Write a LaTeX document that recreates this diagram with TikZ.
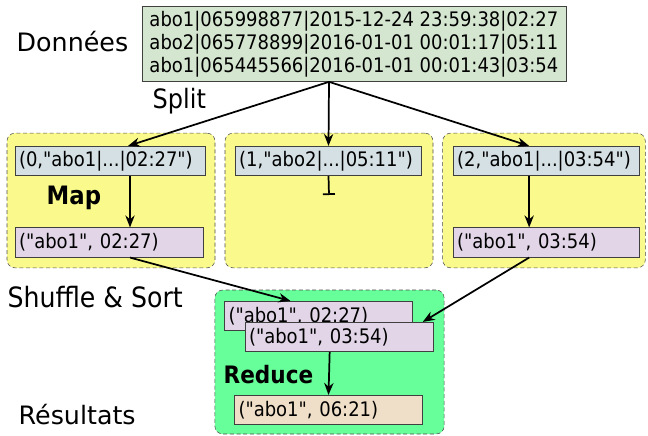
\documentclass[tikz,border=0pt]{standalone}
\usepackage{fontspec}
\setmainfont{DejaVu Sans Condensed}
\newfontfamily\labelfont{DejaVu Sans}
\newfontfamily\recordfont{DejaVu Sans Condensed}
\usetikzlibrary{arrows.meta,calc}

\definecolor{datagreen}{RGB}{213,230,208}
\definecolor{splitblue}{RGB}{212,224,228}
\definecolor{pairpurple}{RGB}{225,213,231}
\definecolor{mapyellow}{RGB}{250,250,140}
\definecolor{reducegreen}{RGB}{102,255,153}
\definecolor{resultwheat}{RGB}{240,223,200}

\begin{document}
\begin{tikzpicture}[x=0.75pt, y=-0.75pt]

        \def\bh{22pt}

        % Styles for the record boxes and the phase frames
        \tikzset{
            entry/.style={draw=black!75, line width=0.6pt, inner xsep=3pt,
                text width=#1, align=left, minimum height=\bh,
                font=\recordfont\fontsize{15}{17}\selectfont},
            frame/.style={draw=black!70, densely dashed, line width=0.4pt,
                rounded corners=6pt},
            phase/.style={font=\bfseries\fontsize{19}{22}\selectfont},
            step label/.style={font=\labelfont\fontsize{19}{22}\selectfont},
            link/.style={line width=1.3pt, -{Stealth[length=9pt,width=7pt]}}
        }

        \useasboundingbox (0,0) rectangle (648,435);

        % Frames of the map and reduce phases
        \node[frame, fill=mapyellow, minimum width=156pt, minimum height=101pt]
            (mapL) at (111,200.5) {};
        \node[frame, fill=mapyellow, minimum width=156pt, minimum height=101pt]
            (mapM) at (329,200.5) {};
        \node[frame, fill=mapyellow, minimum width=152pt, minimum height=101pt]
            (mapR) at (544,200.5) {};
        \node[frame, fill=reducegreen, minimum width=172pt, minimum height=108pt]
            (red) at (329.5,362) {};

        % Input records
        \node[draw=black!75, line width=0.6pt, fill=datagreen, align=left,
            minimum width=318pt, minimum height=54pt,
            font=\recordfont\fontsize{15}{17.25}\selectfont] (data) at (354,44)
            {abo1|065998877|2015-12-24 23:59:38|02:27\\
             abo2|065778899|2016-01-01 00:01:17|05:11\\
             abo1|065445566|2016-01-01 00:01:43|03:54};

        % Split output
        \node[entry=136.5pt, fill=splitblue] (inL) at (110,161)
            {(0,"abo1|...|02:27")};
        \node[entry=134pt, fill=splitblue] (inM) at (328.5,161)
            {(1,"abo2|...|05:11")};
        \node[entry=134pt, fill=splitblue] (inR) at (546.5,161)
            {(2,"abo1|...|03:54")};

        % Map output
        \node[entry=135pt, fill=pairpurple] (keyL) at (109,242.5)
            {("abo1", 02:27)};
        \node[entry=134pt, fill=pairpurple] (keyR) at (546.5,242.5)
            {("abo1", 03:54)};
        \coordinate (stop) at (329,195);

        % Shuffled pairs and the reduced result
        \node[entry=135pt, fill=pairpurple] (sortA) at (318.5,316)
            {("abo1", 02:27)};
        \node[entry=135pt, fill=pairpurple] (sortB) at (339,337)
            {("abo1", 03:54)};
        \node[entry=135pt, fill=resultwheat] (res) at (328.5,410)
            {("abo1", 06:21)};

        % Side labels
        \node[step label, anchor=west] (lblIn) at (12,42) {Données};
        \node[step label, anchor=west] (lblOut) at (14,415) {Résultats};
        \node[phase, font=\fontsize{20}{22}\selectfont, anchor=west] (lblSplit)
            at (148,101) {Split};
        \node[phase, anchor=west] (lblMap) at (42,198) {Map};
        \node[phase, font=\fontsize{21}{22}\selectfont, anchor=west] (lblShuffle)
            at (3,297) {Shuffle \& Sort};
        \node[phase, font=\bfseries\fontsize{18}{22}\selectfont, anchor=west]
            (lblReduce) at (219,375) {Reduce};

        \begin{scope}
            \draw[link] ([xshift=-18.75pt]data.south) -- ([xshift=13.5pt]inL.north);
            \draw[link] ([xshift=-18.75pt]data.south) -- (inM.north);
            \draw[link] ([xshift=-18.75pt]data.south) -- ([xshift=-13pt]inR.north);

            \draw[link] ([xshift=15pt]inL.south) -- ([xshift=15.75pt]keyL.north);
            \draw[link] ([xshift=-13pt]inR.south) -- ([xshift=-13pt]keyR.north);
            \draw[line width=1.3pt, -{Bar[width=9pt]}] (inM.south) -- (stop);

            \draw[link] ([xshift=15.75pt]keyL.south) -- ([xshift=-21pt]sortA.north);
            \draw[link] ([xshift=-13pt]keyR.south) -- ([xshift=-8pt]sortB.north east);
            \draw[link] ([xshift=-7pt]sortB.south) -- (res.north);
        \end{scope}

\end{tikzpicture}
\end{document}
